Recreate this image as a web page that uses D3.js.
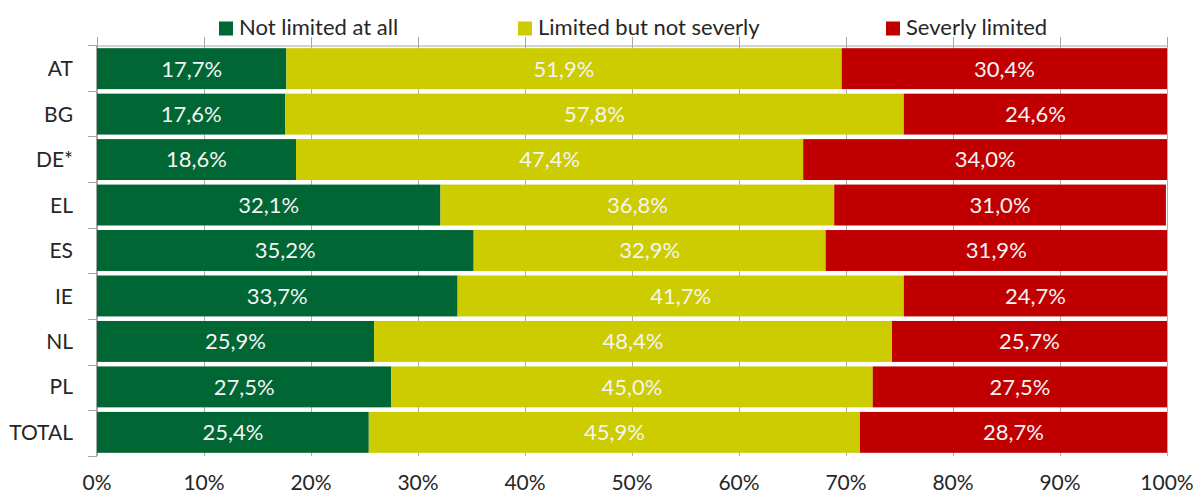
<!DOCTYPE html>
<html><head><meta charset="utf-8">
<script src="https://cdn.jsdelivr.net/npm/d3@7"></script>
<style>body{margin:0;background:#fff}svg{display:block}text{font-family:Lato,"Open Sans",sans-serif}</style>
</head><body><svg id="c" width="1197" height="495"></svg>
<script>
const categories = ["AT","BG","DE*","EL","ES","IE","NL","PL","TOTAL"];
const seriesNames = ["Not limited at all","Limited but not severly","Severly limited"];
const notLimited = [17.7,17.6,18.6,32.1,35.2,33.7,25.9,27.5,25.4];
const limitedNotSeverly = [51.9,57.8,47.4,36.8,32.9,41.7,48.4,45.0,45.9];
const severlyLimited = [30.4,24.6,34.0,31.0,31.9,24.7,25.7,27.5,28.7];
const tickValues = [0,10,20,30,40,50,60,70,80,90,100];
const colors = ["#006633","#CCCC00","#C00000"];

const svg = d3.select("#c");
const x = d3.scaleLinear().domain([0,100]).range([97,1167]);
const y = d3.scaleBand().domain(categories).range([45,456]).paddingInner(0.1).paddingOuter(0.07);

// gridlines
svg.append("g").selectAll("line").data(tickValues).join("line")
  .attr("x1",d=>x(d)+0.5).attr("x2",d=>x(d)+0.5).attr("y1",37).attr("y2",456)
  .attr("stroke","#b0b0b0").attr("stroke-width",1);
// top axis
const topAxis = svg.append("g").attr("transform","translate(0,45.5)")
  .call(d3.axisTop(x).tickValues(tickValues).tickSize(8).tickFormat(""));
topAxis.select(".domain").attr("stroke","#a6a6a6");
topAxis.selectAll(".tick line").attr("stroke","#a6a6a6");
// left axis line + boundary ticks
const bounds = d3.range(categories.length+1).map(i=>45+i*(411/categories.length));
svg.append("line").attr("x1",96.5).attr("x2",96.5).attr("y1",45).attr("y2",456).attr("stroke","#a6a6a6");
svg.append("g").selectAll("line").data(bounds).join("line")
  .attr("x1",88).attr("x2",97).attr("y1",d=>Math.round(d)+0.5).attr("y2",d=>Math.round(d)+0.5).attr("stroke","#a6a6a6");

const rows = categories.map((c,i)=>({cat:c, vals:[notLimited[i],limitedNotSeverly[i],severlyLimited[i]]}));
const segs = [];
rows.forEach(r=>{let acc=0; r.vals.forEach((v,k)=>{segs.push({cat:r.cat,k,v,x0:acc,x1:Math.min(100,acc+v)}); acc+=v;});});

svg.append("g").selectAll("rect").data(segs).join("rect")
  .attr("x",d=>x(d.x0)).attr("width",d=>x(d.x1)-x(d.x0))
  .attr("y",d=>y(d.cat)).attr("height",y.bandwidth())
  .attr("fill",d=>colors[d.k]);

svg.append("g").selectAll("text").data(segs).join("text")
  .attr("x",d=>(x(d.x0)+x(d.x1))/2).attr("y",d=>y(d.cat)+y.bandwidth()/2)
  .attr("dy","0.36em").attr("text-anchor","middle").attr("fill","#f4f4f4")
  .attr("font-size",22).text(d=>d.v.toFixed(1).replace(".",",")+"%");

// category labels
svg.append("g").selectAll("text").data(categories).join("text")
  .attr("x",73).attr("y",d=>y(d)+y.bandwidth()/2).attr("dy","0.36em")
  .attr("text-anchor","end").attr("fill","#262626").attr("font-size",21).text(d=>d);

// bottom tick labels
svg.append("g").selectAll("text").data(tickValues).join("text")
  .attr("x",d=>x(d)).attr("y",490).attr("text-anchor","middle")
  .attr("fill","#262626").attr("font-size",21).text(d=>d+"%");

// legend
const legendX = [219,518,886];
const lg = svg.append("g").selectAll("g").data(seriesNames).join("g")
  .attr("transform",(d,i)=>`translate(${legendX[i]},0)`);
lg.append("rect").attr("x",0).attr("y",21.5).attr("width",14).attr("height",14).attr("fill",(d,i)=>colors[i]);
lg.append("text").attr("x",20).attr("y",35).attr("fill","#262626").attr("font-size",22).text(d=>d);
</script></body></html>
